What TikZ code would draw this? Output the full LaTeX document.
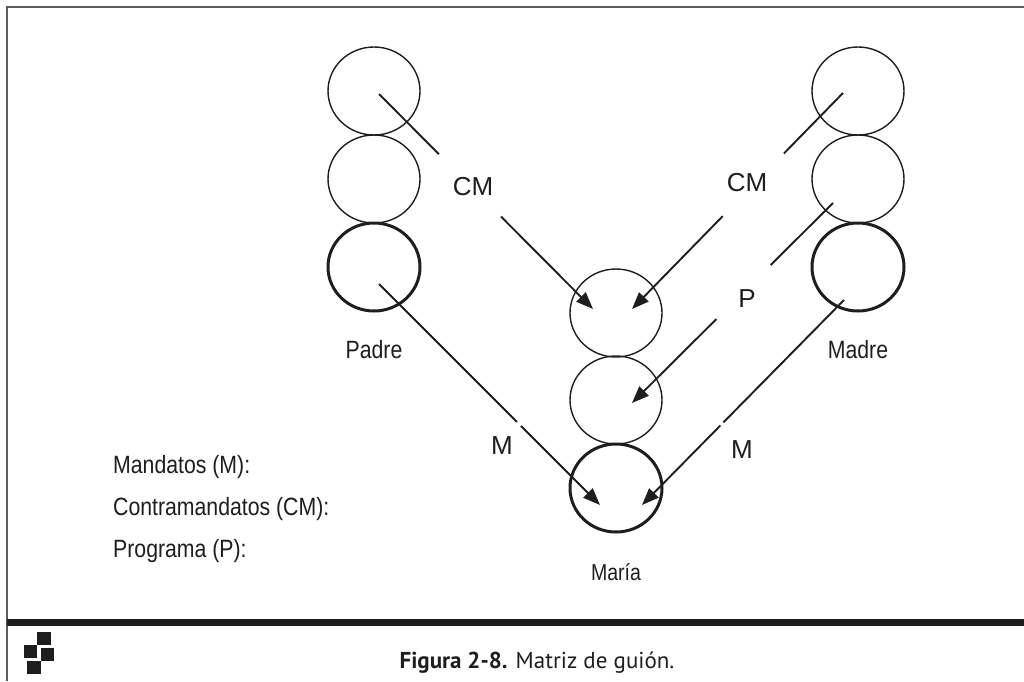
\documentclass[tikz,border=0pt]{standalone}
\usepackage{fontspec}
\setmainfont{Liberation Sans}
\newfontfamily\narrowfont[FakeStretch=0.85]{Liberation Sans}
\newfontfamily\capfont{PT Sans}
\usetikzlibrary{shapes.geometric,arrows.meta,calc}
\definecolor{ink}{HTML}{1E1E1E}
\definecolor{framegray}{HTML}{5E5E5E}
\begin{document}
\begin{tikzpicture}[x=1pt,y=-1pt,
  ring/.style={ellipse,draw=ink,line width=1.4pt,minimum width=92pt,minimum height=88pt,inner sep=0pt},
  boldring/.style={ring,line width=3pt},
  link/.style={draw=ink,line width=1.9pt},
  arrowlink/.style={link,-{Triangle[length=17pt,width=13pt]}},
  tag/.style={text=ink,font=\fontsize{26}{30}\selectfont,anchor=base,inner sep=0pt},
  who/.style={text=ink,font=\narrowfont\fontsize{25}{29}\selectfont,anchor=base,inner sep=0pt},
  legend/.style={text=ink,font=\narrowfont\fontsize{25}{29}\selectfont,anchor=base west,inner sep=0pt},
  block/.style={fill=ink,draw=none}]
\useasboundingbox (0,0) rectangle (1024,681);

% frame and footer rule
\draw[framegray,line width=1.6pt] (7,681) -- (7,7) -- (1024,7);
\fill[ink] (7,619) rectangle (1024,626);

% footer mark
\fill[block] (37,632) rectangle (51,645);
\fill[block] (24,645) rectangle (37,658);
\fill[block] (41,648) rectangle (54,661);
\fill[block] (27,661) rectangle (41,674);

% caption
\node[text=ink,font=\capfont\fontsize{23}{27}\selectfont,anchor=base,inner sep=0pt] (caption) at (537,668)
  {\textbf{Figura 2-8.} Matriz de guión.};

% father column
\node[ring] (pc1) at (374,91) {};
\node[ring] (pc2) at (374,179) {};
\node[boldring] (pc3) at (374,267) {};
% mother column
\node[ring] (mc1) at (858,91) {};
\node[ring] (mc2) at (858,179) {};
\node[boldring] (mc3) at (858,267) {};
% child column
\node[ring] (hc1) at (616,313) {};
\node[ring] (hc2) at (616,400) {};
\node[boldring] (hc3) at (616,488) {};

% names
\node[who] (padre) at (374,358) {Padre};
\node[who] (madre) at (858,358) {Madre};
\node[who,font=\narrowfont\fontsize{23}{27}\selectfont] (maria) at (616,580) {María};

% legend
\node[legend] (lgM) at (113,473) {Mandatos (M):};
\node[legend] (lgCM) at (113,515) {Contramandatos (CM):};
\node[legend] (lgP) at (113,557) {Programa (P):};

% connector end points
\coordinate (cmLs) at ($(pc1.center)+(5,3)$);
\coordinate (cmLe) at ($(hc1.center)+(-23,-4)$);
\coordinate (cmRs) at ($(mc1.center)+(-15,2)$);
\coordinate (cmRe) at ($(hc1.center)+(16,-4)$);
\coordinate (pRs) at ($(mc2.center)+(-25,24)$);
\coordinate (pRe) at ($(hc2.center)+(16,3)$);
\coordinate (mLs) at ($(pc3.center)+(5,17)$);
\coordinate (mLe) at ($(hc3.center)+(-16,17)$);
\coordinate (mRs) at ($(mc3.center)+(-14,33)$);
\coordinate (mRe) at ($(hc3.center)+(26,17)$);

% counter-mandates
\draw[link] (cmLs) -- ($(cmLs)!0.28!(cmLe)$);
\draw[arrowlink] ($(cmLs)!0.57!(cmLe)$) -- (cmLe);
\node[tag] (cmL) at (473,195) {CM};
\draw[link] (cmRs) -- ($(cmRs)!0.28!(cmRe)$);
\draw[arrowlink] ($(cmRs)!0.57!(cmRe)$) -- (cmRe);
\node[tag] (cmR) at (747,191) {CM};

% programme
\draw[link] (pRs) -- ($(pRs)!0.31!(pRe)$);
\draw[arrowlink] ($(pRs)!0.58!(pRe)$) -- (pRe);
\node[tag] (pR) at (747,307) {P};

% mandates
\draw[link] (mLs) -- ($(mLs)!0.624!(mLe)$);
\draw[arrowlink] ($(mLs)!0.642!(mLe)$) -- (mLe);
\node[tag] (mL) at (502,454) {M};
\draw[link] (mRs) -- ($(mRs)!0.597!(mRe)$);
\draw[arrowlink] ($(mRs)!0.612!(mRe)$) -- (mRe);
\node[tag] (mR) at (742,458) {M};
\end{tikzpicture}
\end{document}
